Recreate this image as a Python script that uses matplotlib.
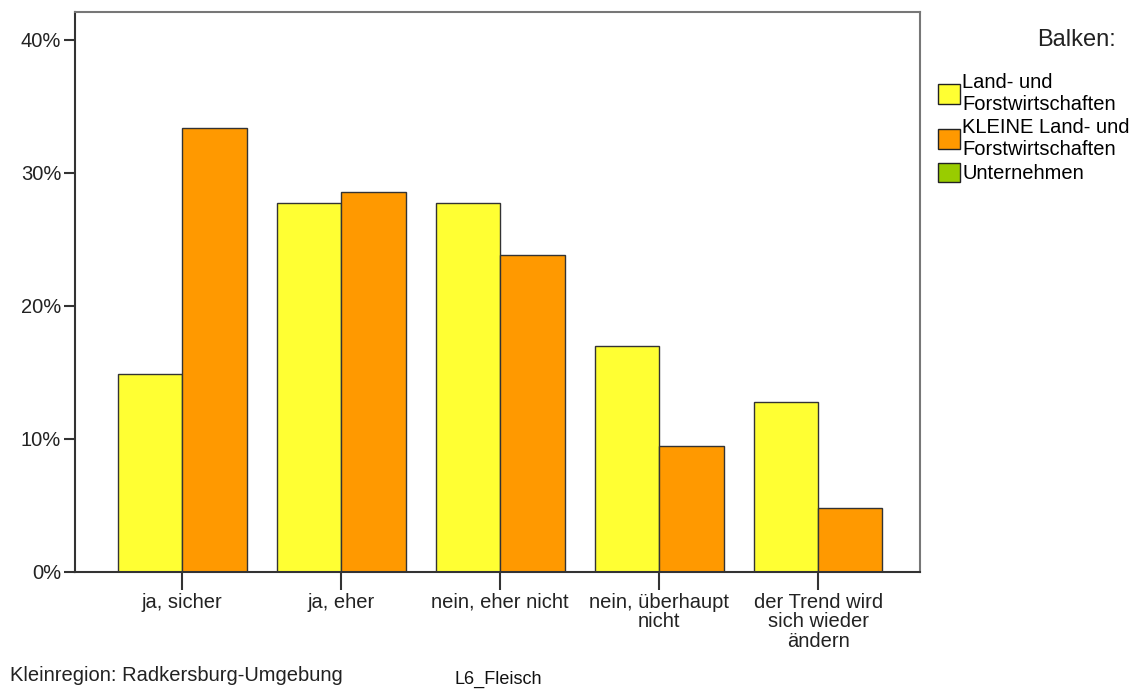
import matplotlib.pyplot as plt
import numpy as np
from matplotlib.patches import Patch
from matplotlib.ticker import PercentFormatter

plt.rcParams['font.family'] = ['Liberation Sans', 'DejaVu Sans']

# Data
categories = ["ja, sicher", "ja, eher", "nein, eher nicht",
              "nein, überhaupt\nnicht", "der Trend wird\nsich wieder\nändern"]
land_forst = [14.9, 27.7, 27.7, 17.0, 12.8]
kleine_land_forst = [33.4, 28.6, 23.8, 9.5, 4.8]
series_names = ["Land- und\nForstwirtschaften",
                "KLEINE Land- und\nForstwirtschaften",
                "Unternehmen"]
colors = ["#FFFF33", "#FF9900", "#99CC00"]

fig = plt.figure(figsize=(11.37, 6.89), dpi=100)
ax = fig.add_axes([0.066, 0.170, 0.743, 0.8126])

x = np.arange(len(categories))
w = 0.405
ax.bar(x - w / 2, land_forst, w, color=colors[0], edgecolor="#333333", linewidth=1)
ax.bar(x + w / 2, kleine_land_forst, w, color=colors[1], edgecolor="#333333", linewidth=1)

ax.set_xlim(-0.675, 4.64)
ax.set_ylim(0, 42.1)
ax.set_yticks([0, 10, 20, 30, 40])
ax.yaxis.set_major_formatter(PercentFormatter(decimals=0))
ax.set_xticks(x)
ax.set_xticklabels(categories, fontsize=14.5, color="#222222", linespacing=1.05)
ax.tick_params(axis="y", labelsize=14.5, length=8, width=1.5, color="#333333", labelcolor="#222222", pad=2)
ax.tick_params(axis="x", length=13, width=1.5, color="#333333", pad=2)

for s in ["left", "bottom"]:
    ax.spines[s].set_color("#333333")
    ax.spines[s].set_linewidth(1.5)
for s in ["top", "right"]:
    ax.spines[s].set_color("#777777")
    ax.spines[s].set_linewidth(1.5)

# Legend
fig.text(0.981, 0.942, "Balken:", fontsize=17, color="#222222", ha="right", va="center")
handles = [Patch(facecolor=c, edgecolor="#222222", linewidth=1) for c in colors]
leg = fig.legend(handles, series_names, loc="upper left", bbox_to_anchor=(0.814, 0.912),
                 frameon=False, fontsize=14.5,
                 handlelength=1.1, handleheight=1.1, handletextpad=0.12,
                 labelspacing=0.2, borderaxespad=0.2)
for t in leg.get_texts():
    t.set_linespacing(1.2)

fig.text(0.009, 0.012, "Kleinregion: Radkersburg-Umgebung", fontsize=14.5, color="#222222")
fig.text(0.400, 0.007, "L6_Fleisch", fontsize=13, color="#111111")

plt.savefig("out.png", dpi=100)
